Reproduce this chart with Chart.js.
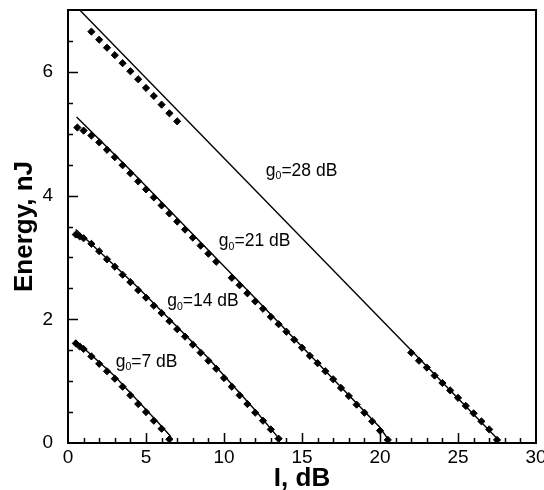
<!DOCTYPE html>
<html>
<head>
<meta charset="utf-8">
<script src="https://cdn.jsdelivr.net/npm/chart.js@4.4.0/dist/chart.umd.min.js"></script>
<style>
  html, body { margin: 0; padding: 0; background: #fff; }
  #wrap { width: 544px; height: 490px; }
</style>
</head>
<body>
<div id="wrap"><canvas id="chart" width="544" height="490"></canvas></div>
<script>
// measured points (diamonds), energy in nJ vs loss I in dB
const g7X = [0.5, 0.75, 1.0, 1.5, 2.0, 2.5, 3.0, 3.5, 4.0, 4.5, 5.0, 5.5, 6.0, 6.5];
const g7E = [1.61, 1.56, 1.52, 1.40, 1.28, 1.16, 1.04, 0.91, 0.77, 0.63, 0.50, 0.36, 0.23, 0.06];

const g14X = [0.5, 0.75, 1.0, 1.5, 2.0, 2.5, 3.0, 3.5, 4.0, 4.5, 5.0, 5.5, 6.0, 6.5, 7.0, 7.5, 8.0, 8.5, 9.0, 9.5,
  10.0, 10.5, 11.0, 11.5, 12.0, 12.5, 13.0, 13.5];
const g14E = [3.37, 3.34, 3.31, 3.22, 3.10, 2.97, 2.85, 2.72, 2.60, 2.47, 2.35, 2.22, 2.10, 1.97, 1.84, 1.72, 1.59, 1.46, 1.33, 1.20,
  1.05, 0.91, 0.77, 0.63, 0.49, 0.36, 0.22, 0.07];

const g21X = [0.6, 1.0, 1.5, 2.0, 2.5, 3.0, 3.5, 4.0, 4.5, 5.0, 5.5, 6.0, 6.5, 7.0, 7.5, 8.0, 8.5, 9.0, 9.5,
  10.5, 11.0, 11.5, 12.0, 12.5, 13.0, 13.5, 14.0, 14.5, 15.0, 15.5, 16.0, 16.5, 17.0, 17.5, 18.0, 18.5, 19.0, 19.5, 20.0, 20.5];
const g21E = [5.10, 5.05, 4.97, 4.86, 4.74, 4.62, 4.49, 4.36, 4.23, 4.10, 3.97, 3.84, 3.71, 3.58, 3.45, 3.32, 3.19, 3.06, 2.93,
  2.67, 2.55, 2.42, 2.29, 2.17, 2.04, 1.92, 1.80, 1.67, 1.54, 1.41, 1.29, 1.16, 1.03, 0.89, 0.76, 0.62, 0.49, 0.35, 0.20, 0.05];

const g28X = [1.5, 2.0, 2.5, 3.0, 3.5, 4.0, 4.5, 5.0, 5.5, 6.0, 6.5, 7.0,
  22.0, 22.5, 23.0, 23.5, 24.0, 24.5, 25.0, 25.5, 26.0, 26.5, 27.0, 27.5];
const g28E = [6.65, 6.52, 6.39, 6.27, 6.14, 6.01, 5.88, 5.74, 5.61, 5.47, 5.33, 5.20,
  1.46, 1.33, 1.22, 1.09, 0.97, 0.85, 0.73, 0.60, 0.48, 0.35, 0.22, 0.05];

// calculated curves (solid lines)
const fit7X = [0.45, 3.0, 6.0, 6.6];
const fit7E = [1.66, 1.08, 0.27, 0.10];
const fit14X = [0.5, 4.5, 9.0, 12.0, 13.6];
const fit14E = [3.45, 2.51, 1.37, 0.53, 0.05];
const fit21X = [0.55, 4.0, 12.0, 20.0, 20.6];
const fit21E = [5.27, 4.41, 2.34, 0.25, 0.03];
const fit28X = [0.75, 27.6];
const fit28E = [7.0, 0.05];

// curve labels: gain in dB, anchored (left, baseline) in data units
const gainLabels = ["28", "21", "14", "7"];
const gainLabelX = [12.68, 9.67, 6.36, 3.06];
const gainLabelY = [4.32, 3.18, 2.21, 1.23];

const xTicks = [0, 5, 10, 15, 20, 25, 30];
const yTicks = [0, 2, 4, 6];

const FONT = "'Liberation Sans', Arial, Helvetica, sans-serif";

function pts(xs, ys) {
  return xs.map((x, i) => ({ x: x, y: ys[i] }));
}

function markers(xs, ys) {
  return {
    data: pts(xs, ys),
    showLine: false,
    pointStyle: "rectRot",
    pointRadius: 3.6,
    pointBorderWidth: 1,
    pointBackgroundColor: "#000",
    pointBorderColor: "#000",
  };
}

function curve(xs, ys) {
  return {
    data: pts(xs, ys),
    showLine: true,
    borderColor: "#000",
    borderWidth: 1.4,
    pointRadius: 0,
    tension: 0,
  };
}

const frame = {
  id: "frame",
  afterDraw(chart) {
    const { ctx, chartArea: a } = chart;
    const x = chart.scales.x;
    const y = chart.scales.y;
    ctx.save();
    ctx.strokeStyle = "#000";
    ctx.lineWidth = 1.5;
    ctx.beginPath();
    // inward ticks, minor every 1 dB and 0.5 nJ
    for (let v = 1; v < 30; v++) {
      const px = Math.round(x.getPixelForValue(v)) + 0.5;
      const len = v % 5 === 0 ? 10 : 5;
      ctx.moveTo(px, a.bottom);
      ctx.lineTo(px, a.bottom - len);
    }
    for (let k = 1; k < 14; k++) {
      const v = k / 2;
      const py = Math.round(y.getPixelForValue(v)) + 0.5;
      const len = k % 4 === 0 ? 10 : 5;
      ctx.moveTo(a.left, py);
      ctx.lineTo(a.left + len, py);
    }
    ctx.stroke();
    ctx.lineWidth = 2;
    ctx.strokeRect(a.left, a.top, a.right - a.left, a.bottom - a.top);

    // g0 = ... dB labels
    ctx.fillStyle = "#000";
    ctx.textBaseline = "alphabetic";
    ctx.textAlign = "left";
    gainLabels.forEach((g, i) => {
      let px = x.getPixelForValue(gainLabelX[i]);
      const py = y.getPixelForValue(gainLabelY[i]);
      ctx.font = "17.5px " + FONT;
      ctx.fillText("g", px, py);
      px += ctx.measureText("g").width;
      ctx.font = "10.5px " + FONT;
      ctx.fillText("0", px, py + 3.5);
      px += ctx.measureText("0").width;
      ctx.font = "17.5px " + FONT;
      ctx.fillText("=" + g + " dB", px, py);
    });
    ctx.restore();
  },
};

new Chart(document.getElementById("chart"), {
  type: "scatter",
  data: {
    datasets: [
      markers(g7X, g7E),
      markers(g14X, g14E),
      markers(g21X, g21E),
      markers(g28X, g28E),
      curve(fit7X, fit7E),
      curve(fit14X, fit14E),
      curve(fit21X, fit21E),
      curve(fit28X, fit28E),
    ],
  },
  options: {
    responsive: false,
    animation: false,
    devicePixelRatio: 1,
    layout: { padding: { top: 10, right: 8, left: 0, bottom: 0 } },
    plugins: {
      legend: { display: false },
      tooltip: { enabled: false },
    },
    scales: {
      x: {
        type: "linear",
        min: 0,
        max: 30,
        grid: { display: false, drawTicks: false },
        border: { display: false },
        afterBuildTicks: (s) => { s.ticks = xTicks.map((v) => ({ value: v })); },
        afterFit: (s) => { s.height = 47; s.paddingLeft = 0; s.paddingRight = 0; },
        ticks: {
          autoSkip: false,
          maxRotation: 0,
          padding: 3,
          color: "#000",
          font: { family: FONT, size: 19 },
        },
        title: {
          display: true,
          text: "I, dB",
          color: "#000",
          padding: 0,
          font: { family: FONT, size: 26, weight: "bold", lineHeight: 0.85 },
        },
      },
      y: {
        type: "linear",
        min: 0,
        max: 7,
        grid: { display: false, drawTicks: false },
        border: { display: false },
        afterBuildTicks: (s) => { s.ticks = yTicks.map((v) => ({ value: v })); },
        afterFit: (s) => { s.width = 68; s.paddingTop = 0; s.paddingBottom = 0; },
        ticks: {
          autoSkip: false,
          padding: 15,
          color: "#000",
          font: { family: FONT, size: 19 },
        },
        title: {
          display: true,
          text: "Energy, nJ",
          color: "#000",
          padding: { top: 12, bottom: 0 },
          font: { family: FONT, size: 26, weight: "bold", lineHeight: 1 },
        },
      },
    },
  },
  plugins: [frame],
});
</script>
</body>
</html>
